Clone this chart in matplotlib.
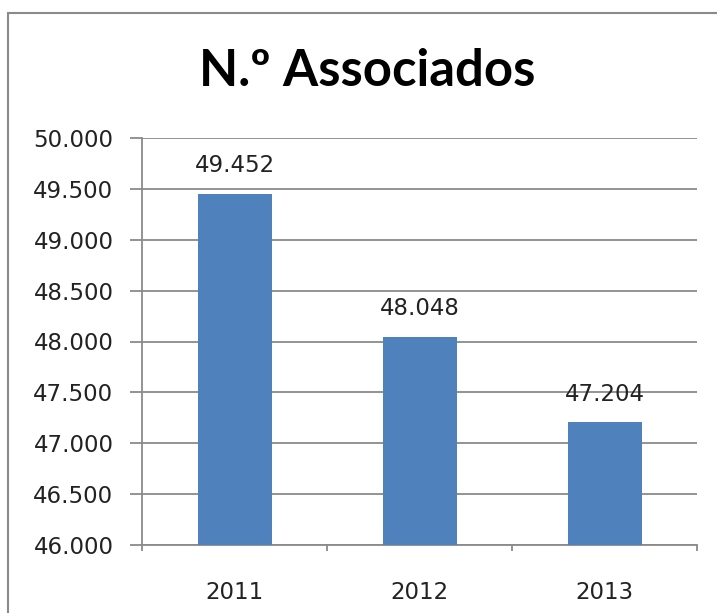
import matplotlib.pyplot as plt
import matplotlib.patches as patches
from matplotlib.ticker import FuncFormatter, FixedLocator

years = ['2011', '2012', '2013']
associados = [49452, 48048, 47204]

W, H = 717, 613
fig = plt.figure(figsize=(W / 100, H / 100), dpi=100)

def fmt(v, pos=None):
    return f'{v:,.0f}'.replace(',', '.')

grey = '#8a8a8a'
# plot area in pixels
ax = fig.add_axes([142 / W, (H - 545) / H, 555 / W, 407 / H])
x = list(range(len(years)))
ax.bar(x, associados, width=0.4, color='#4F81BD', zorder=3)
ax.set_xlim(-0.5, 2.5)
ax.set_ylim(46000, 50000)
ax.set_yticks(range(46000, 50001, 500))
ax.yaxis.set_major_formatter(FuncFormatter(fmt))
ax.grid(axis='y', color=grey, lw=1.3, zorder=0)
ax.set_axisbelow(True)

for s in ['top', 'right']:
    ax.spines[s].set_visible(False)
for s in ['left', 'bottom']:
    ax.spines[s].set_color(grey)
    ax.spines[s].set_linewidth(1.3)

ax.set_xticks(x)
ax.set_xticklabels(years)
ax.xaxis.set_minor_locator(FixedLocator([-0.5, 0.5, 1.5, 2.5]))
ax.tick_params(axis='x', which='major', length=0, pad=26, labelsize=16.5, labelcolor='#222222')
ax.tick_params(axis='x', which='minor', length=4, color=grey, width=1.3)
ax.tick_params(axis='y', length=8.6, color=grey, width=1.3, pad=12, labelsize=16.5, labelcolor='#222222')

for xi, v in zip(x, associados):
    ax.annotate(fmt(v), (xi, v), xytext=(0, 20), textcoords='offset points',
                ha='center', va='center', fontsize=16.5, color='#222222', zorder=4)

fig.text(367 / W, 1 - 72 / H, 'N.º Associados', ha='center', va='center',
         fontsize=36.5, fontweight='bold', family=['Lato', 'DejaVu Sans'])

fig.patches.append(patches.Rectangle((8 / W, -0.1), 1.2, 1.1 - 13 / H, transform=fig.transFigure,
                                     fill=False, edgecolor=grey, lw=1.5))

fig.savefig('out.png', dpi=100)
